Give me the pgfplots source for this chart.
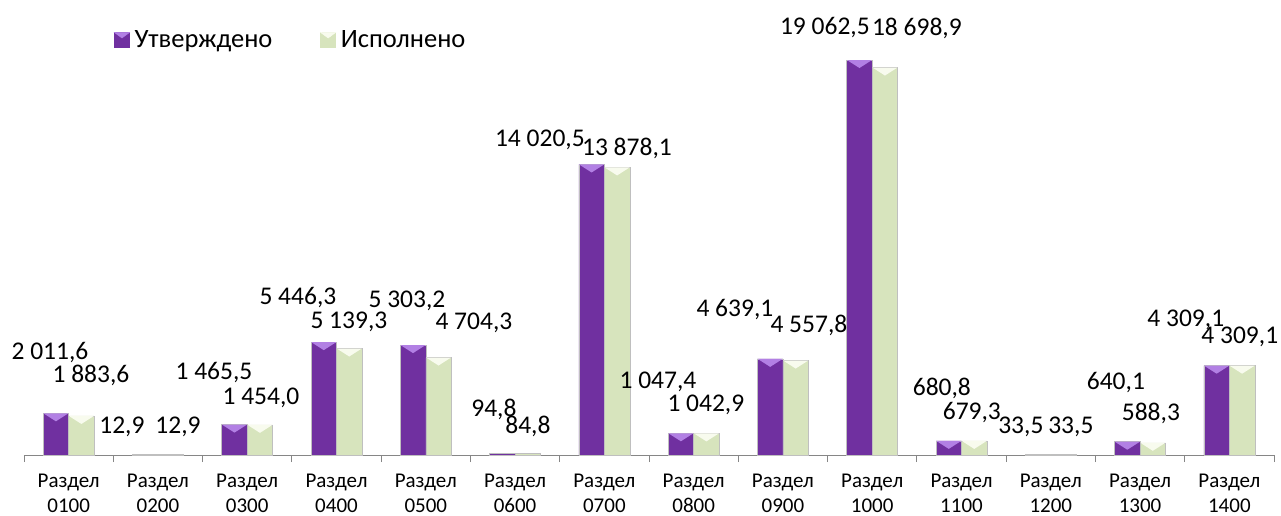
\documentclass[border=0pt]{standalone}
\usepackage{pgfplots}
\pgfplotsset{compat=1.18}
\usepackage{fontspec}
\setmainfont{Carlito}

\definecolor{violetbar}{RGB}{112,48,160}
\definecolor{violettop}{RGB}{178,128,228}
\definecolor{greenbar}{RGB}{215,228,189}
\definecolor{greentop}{RGB}{248,251,238}
\definecolor{axisgray}{RGB}{134,134,134}

% light slanted top of a bar, put at the top of each bar as a mark
\pgfdeclareplotmark{bevtop}{%
  \pgfpathmoveto{\pgfpoint{-12.5pt}{0pt}}%
  \pgfpathlineto{\pgfpoint{12.5pt}{0pt}}%
  \pgfpathlineto{\pgfpoint{0pt}{-8pt}}%
  \pgfpathclose
  \pgfusepathqfill}

\pgfplotstableread{
x y
0 2011.6
1 12.9
2 1465.5
3 5446.3
4 5303.2
5 94.8
6 14020.5
7 1047.4
8 4639.1
9 19062.5
10 680.8
11 33.5
12 640.1
13 4309.1
}\approved

\pgfplotstableread{
x y
0 1883.6
1 12.9
2 1454.0
3 5139.3
4 4704.3
5 84.8
6 13878.1
7 1042.9
8 4557.8
9 18698.9
10 679.3
11 33.5
12 588.3
13 4309.1
}\executed

% where each value label sits (axis units) and its value
\pgfplotstableread{
x y v
-0.209 4923 2011.6
0.250 3861 1883.6
0.597 1351 12.9
1.225 1351 12.9
1.628 3957 1465.5
2.154 2751 1454.0
2.568 7577 5446.3
3.139 6419 5139.3
3.789 7432 5303.2
4.539 6370 4704.3
4.763 2220 94.8
5.144 1400 84.8
5.278 15202 14020.5
6.253 14816 13878.1
6.600 3523 1047.4
7.137 2413 1042.9
7.462 6998 4639.1
8.291 6274 4557.8
8.470 20655 19062.5
9.500 20607 18698.9
9.780 3233 680.8
10.116 2027 679.3
10.665 1351 33.5
11.225 1351 33.5
11.729 3475 640.1
12.121 2027 588.3
12.512 6515 4309.1
13.117 5695 4309.1
}\labels

\begin{document}
\begin{tikzpicture}
\path[use as bounding box] (0pt,0pt) rectangle (1281pt,516pt);
\begin{axis}[
  at={(24pt,61pt)}, anchor=south west,
  scale only axis, width=1250pt, height=414.4pt,
  xmin=-0.5, xmax=13.5, ymin=0, ymax=20000,
  clip=false,
  axis x line=bottom, axis y line=none,
  axis line style={-, draw=axisgray, line width=0.9pt},
  xtick={0,...,13}, major tick length=0pt,
  xticklabels={{Раздел\\0100},{Раздел\\0200},{Раздел\\0300},{Раздел\\0400},
    {Раздел\\0500},{Раздел\\0600},{Раздел\\0700},{Раздел\\0800},{Раздел\\0900},
    {Раздел\\1000},{Раздел\\1100},{Раздел\\1200},{Раздел\\1300},{Раздел\\1400}},
  xticklabel style={align=center, font=\fontsize{21}{25}\selectfont,
    inner sep=1pt, yshift=-18pt},
  extra x ticks={-0.5,0.5,...,13.5}, extra x tick labels={},
  extra x tick style={tick align=outside, major tick length=7pt,
    tick style={draw=axisgray, line width=0.9pt}},
  legend columns=2,
  legend style={at={(axis description cs:0.072,1.0015)}, anchor=west,
    draw=none, fill=none, inner sep=0pt,
    font=\fontsize{26.5}{30}\selectfont,
    /tikz/every odd column/.append style={column sep=3pt},
    /tikz/every even column/.append style={column sep=46pt}},
]
\addplot[ybar, bar width=25.5pt, bar shift=-12.75pt, fill=violetbar, draw=black!25,
  line width=0.5pt,
  legend image code/.code={\fill[violetbar] (0pt,-7.5pt) rectangle (15pt,7.5pt);
    \fill[violettop] (0pt,7.5pt) -- (15pt,7.5pt) -- (7.5pt,2pt) -- cycle;}]
  table[x=x, y=y] {\approved};
\addlegendentry{Утверждено}
\addplot[ybar, bar width=25.5pt, bar shift=12.75pt, fill=greenbar, draw=black!25,
  line width=0.5pt,
  legend image code/.code={\fill[greenbar] (0pt,-7.5pt) rectangle (15pt,7.5pt);
    \fill[greentop] (0pt,7.5pt) -- (15pt,7.5pt) -- (7.5pt,2pt) -- cycle;}]
  table[x=x, y=y] {\executed};
\addlegendentry{Исполнено}
% bevelled tops, only on bars tall enough to show them
\addplot[only marks, mark=bevtop, restrict y to domain=500:30000,
  mark options={fill=violettop, draw=none, xshift=-12.75pt}]
  table[x=x, y=y] {\approved};
\addplot[only marks, mark=bevtop, restrict y to domain=500:30000,
  mark options={fill=greentop, draw=none, xshift=12.75pt}]
  table[x=x, y=y] {\executed};
\addplot[draw=none, mark=none, point meta=explicit,
  nodes near coords={\pgfmathprintnumber[fixed, fixed zerofill, precision=1,
    use comma, 1000 sep={\ }, assume math mode=true]{\pgfplotspointmeta}},
  every node near coord/.append style={anchor=center, inner sep=0pt, text=black,
    font=\fontsize{25.5}{30}\selectfont}]
  table[x=x, y=y, meta=v] {\labels};
\end{axis}
\end{tikzpicture}
\end{document}
